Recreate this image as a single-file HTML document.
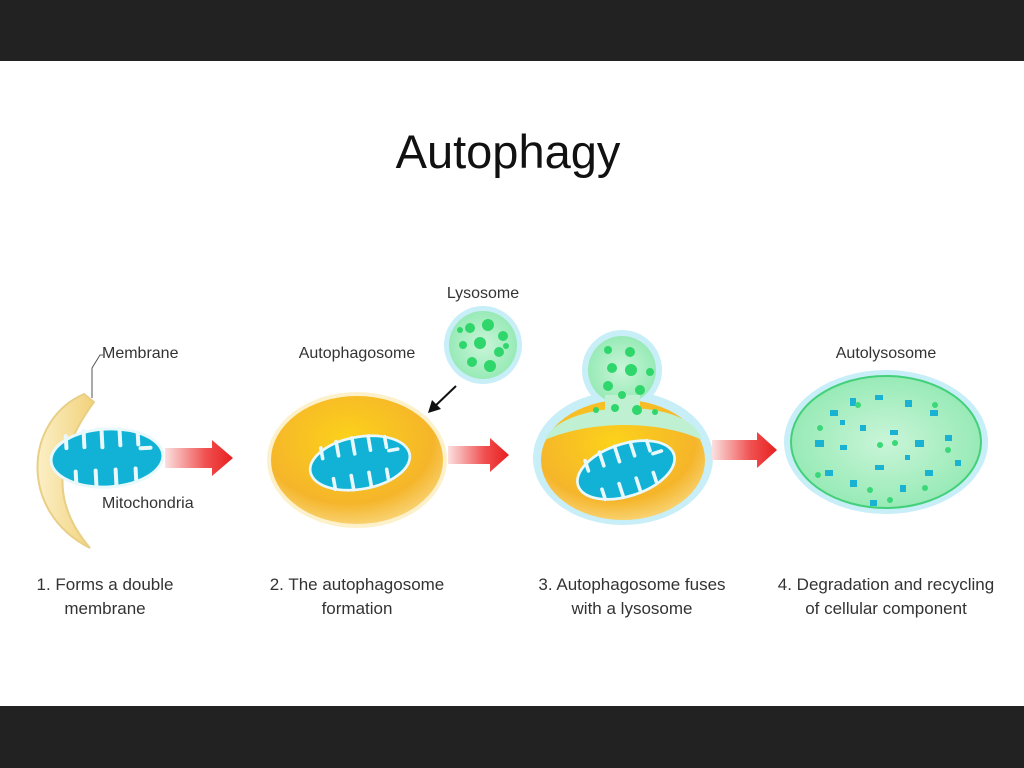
<!DOCTYPE html>
<html><head><style>body{margin:0;background:#fff}svg{display:block}</style></head><body>
<svg width="1024" height="768" viewBox="0 0 1024 768" xmlns="http://www.w3.org/2000/svg" font-family="Liberation Sans, sans-serif">
<defs>
<radialGradient id="yel" cx="0.45" cy="0.35" r="0.7"><stop offset="0" stop-color="#fcd21a"/><stop offset="0.7" stop-color="#f5b52a"/><stop offset="1" stop-color="#f9d983"/></radialGradient>
<radialGradient id="grn" cx="0.5" cy="0.5" r="0.6"><stop offset="0" stop-color="#c9f5d8"/><stop offset="1" stop-color="#8ee8b0"/></radialGradient>
<linearGradient id="arr" x1="0" x2="1"><stop offset="0" stop-color="#fbe0e0"/><stop offset="0.6" stop-color="#f05050"/><stop offset="1" stop-color="#e81f1f"/></linearGradient>
<linearGradient id="cres" x1="0" x2="1"><stop offset="0" stop-color="#fbefc6"/><stop offset="1" stop-color="#f2d27a"/></linearGradient>
<g id="mito">
<ellipse cx="0" cy="0" rx="56" ry="29" fill="#12b2d6" stroke="#e8f8fb" stroke-width="3"/>
<path d="M-40,-24 v12 M-22,-28 v16 M-4,-29 v18 M14,-28 v16 M32,-24 v12 M-32,24 v-12 M-12,28 v-16 M8,28 v-16 M28,24 v-12 M44,-8 h-10" stroke="#e8f8fb" stroke-width="4" stroke-linecap="round"/>
</g>
</defs>
<rect x="0" y="0" width="1024" height="61" fill="#222"/>
<rect x="0" y="706" width="1024" height="62" fill="#222"/>
<text x="508" y="168" font-size="47" text-anchor="middle" fill="#111">Autophagy</text>

<!-- stage 1 -->
<path d="M84,394 C24,420 18,512 90,548 C62,515 44,470 94,402 Z" fill="url(#cres)" stroke="#e9cf85" stroke-width="2"/>
<use href="#mito" transform="translate(107,458) rotate(-3)"/>
<path d="M92,398 V368 L100,355 H103" fill="none" stroke="#555" stroke-width="1"/>
<text x="102" y="358" font-size="16" fill="#333">Membrane</text>
<text x="102" y="508" font-size="16" fill="#333">Mitochondria</text>
<path d="M165,448 H212 V440 L233,458 L212,476 V468 H165 Z" fill="url(#arr)"/>

<!-- stage 2 -->
<ellipse cx="357" cy="460" rx="90" ry="68" fill="#fdf1cc"/>
<ellipse cx="357" cy="460" rx="86" ry="64" fill="url(#yel)"/>
<use href="#mito" transform="translate(360,463) rotate(-10) scale(0.9)"/>
<text x="357" y="358" font-size="16" fill="#333" text-anchor="middle">Autophagosome</text>
<path d="M448,446 H490 V438 L509,455 L490,472 V464 H448 Z" fill="url(#arr)"/>
<path d="M456,386 L433,408" stroke="#111" stroke-width="2"/>
<path d="M428,413 L432,400 L441,409 Z" fill="#111"/>

<!-- lysosome -->
<circle cx="483" cy="345" r="39" fill="#c8eef7"/>
<circle cx="483" cy="345" r="34" fill="url(#grn)"/>
<g fill="#2fd66b">
<circle cx="470" cy="328" r="5"/><circle cx="488" cy="325" r="6"/><circle cx="503" cy="336" r="5"/><circle cx="463" cy="345" r="4"/><circle cx="480" cy="343" r="6"/><circle cx="499" cy="352" r="5"/><circle cx="472" cy="362" r="5"/><circle cx="490" cy="366" r="6"/><circle cx="506" cy="346" r="3"/><circle cx="460" cy="330" r="3"/>
</g>
<text x="483" y="298" font-size="16" fill="#333" text-anchor="middle">Lysosome</text>

<!-- stage 3 -->
<circle cx="622" cy="370" r="40" fill="#c8eef7"/>
<ellipse cx="623" cy="458" rx="90" ry="67" fill="#c8eef7"/>
<rect x="600" y="395" width="45" height="20" fill="#c8eef7"/>
<ellipse cx="623" cy="460" rx="82" ry="60" fill="url(#yel)"/>
<path d="M545,440 C560,400 690,395 702,440 C660,420 590,420 545,440 Z" fill="#bff0d2"/>
<circle cx="622" cy="370" r="34" fill="url(#grn)"/>
<rect x="605" y="395" width="35" height="25" fill="#bff0d2"/>
<g fill="#2fd66b">
<circle cx="608" cy="350" r="4"/><circle cx="630" cy="352" r="5"/><circle cx="612" cy="368" r="5"/><circle cx="631" cy="370" r="6"/><circle cx="650" cy="372" r="4"/><circle cx="608" cy="386" r="5"/><circle cx="622" cy="395" r="4"/><circle cx="640" cy="390" r="5"/><circle cx="596" cy="410" r="3"/><circle cx="615" cy="408" r="4"/><circle cx="637" cy="410" r="5"/><circle cx="655" cy="412" r="3"/>
</g>
<use href="#mito" transform="translate(626,470) rotate(-18) scale(0.9)"/>
<path d="M712,440 H757 V432 L777,450 L757,468 V460 H712 Z" fill="url(#arr)"/>

<!-- stage 4 -->
<ellipse cx="886" cy="442" rx="102" ry="72" fill="#c8eef7"/>
<ellipse cx="886" cy="442" rx="95" ry="66" fill="url(#grn)" stroke="#43d07a" stroke-width="2"/>
<g fill="#1ab2d2">
<rect x="830" y="410" width="8" height="6"/><rect x="850" y="398" width="6" height="8"/><rect x="875" y="395" width="8" height="5"/><rect x="905" y="400" width="7" height="7"/><rect x="930" y="410" width="8" height="6"/><rect x="815" y="440" width="9" height="7"/><rect x="840" y="445" width="7" height="5"/><rect x="860" y="425" width="6" height="6"/><rect x="890" y="430" width="8" height="5"/><rect x="915" y="440" width="9" height="7"/><rect x="945" y="435" width="7" height="6"/><rect x="955" y="460" width="6" height="6"/><rect x="825" y="470" width="8" height="6"/><rect x="850" y="480" width="7" height="7"/><rect x="875" y="465" width="9" height="5"/><rect x="900" y="485" width="6" height="7"/><rect x="925" y="470" width="8" height="6"/><rect x="870" y="500" width="7" height="6"/><rect x="905" y="455" width="5" height="5"/><rect x="840" y="420" width="5" height="5"/>
</g>
<g fill="#3ad878">
<circle cx="858" cy="405" r="3"/><circle cx="935" cy="405" r="3"/><circle cx="820" cy="428" r="3"/><circle cx="880" cy="445" r="3"/><circle cx="895" cy="443" r="3"/><circle cx="948" cy="450" r="3"/><circle cx="818" cy="475" r="3"/><circle cx="870" cy="490" r="3"/><circle cx="925" cy="488" r="3"/><circle cx="890" cy="500" r="3"/>
</g>
<text x="886" y="358" font-size="16" fill="#333" text-anchor="middle">Autolysosome</text>

<!-- captions -->
<g font-size="17" fill="#333" text-anchor="middle">
<text x="105" y="590">1. Forms a double</text><text x="105" y="614">membrane</text>
<text x="357" y="590">2. The autophagosome</text><text x="357" y="614">formation</text>
<text x="632" y="590">3. Autophagosome fuses</text><text x="632" y="614">with a lysosome</text>
<text x="886" y="590">4. Degradation and recycling</text><text x="886" y="614">of cellular component</text>
</g>
</svg>
</body></html>
